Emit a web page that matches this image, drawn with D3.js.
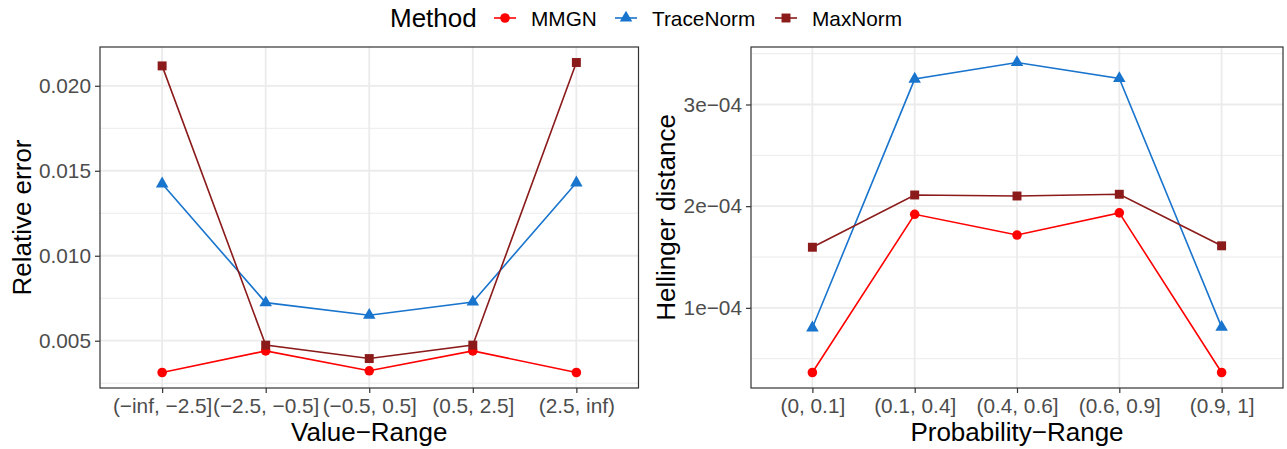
<!DOCTYPE html>
<html>
<head>
<meta charset="utf-8">
<script src="https://cdn.jsdelivr.net/npm/d3@7"></script>
<style>
  body { margin: 0; background: #fff; }
  svg { display: block; font-family: "Liberation Sans", Arial, Helvetica, sans-serif; }
</style>
</head>
<body>
<svg id="chart" width="1287" height="449"></svg>
<script>
// series names and colours
const methods = ["MMGN", "TraceNorm", "MaxNorm"];
const colors = ["#FF0000", "#1874CD", "#8B1A1A"];
const shapes = [d3.symbolCircle, d3.symbolTriangle, d3.symbolSquare];
const shapeSizes = [72, 68, 80];

// left panel: relative error by value range
const valueRanges = ["(\u2212inf, \u22122.5]", "(\u22122.5, \u22120.5]", "(\u22120.5, 0.5]", "(0.5, 2.5]", "(2.5, inf)"];
const relMMGN = [0.00313, 0.00440, 0.00323, 0.00440, 0.00313];
const relTrace = [0.01423, 0.00724, 0.00650, 0.00728, 0.01429];
const relMax = [0.02117, 0.00474, 0.00395, 0.00474, 0.02137];
const relTicks = [0.005, 0.010, 0.015, 0.020];
const relTickLabels = ["0.005", "0.010", "0.015", "0.020"];

// right panel: hellinger distance by probability range
const probRanges = ["(0, 0.1]", "(0.1, 0.4]", "(0.4, 0.6]", "(0.6, 0.9]", "(0.9, 1]"];
const helMMGN = [3.64e-5, 1.92e-4, 1.716e-4, 1.934e-4, 3.64e-5];
const helTrace = [8.04e-5, 3.25e-4, 3.413e-4, 3.256e-4, 8.1e-5];
const helMax = [1.596e-4, 2.11e-4, 2.10e-4, 2.117e-4, 1.61e-4];
const helTicks = [1e-4, 2e-4, 3e-4];
const helTickLabels = ["1e\u221204", "2e\u221204", "3e\u221204"];

const svg = d3.select("#chart");

// legend on top
const legend = svg.append("g");
legend.append("text").attr("x", 390).attr("y", 27)
    .attr("font-size", 26).attr("fill", "#000").text("Method");
const keyX = [494, 615, 775];
methods.forEach((m, i) => {
    const g = legend.append("g").attr("transform", `translate(${keyX[i]},18)`);
    g.append("line").attr("x1", 0).attr("x2", 22).attr("y1", 0).attr("y2", 0)
        .attr("stroke", colors[i]).attr("stroke-width", 1.6);
    g.append("path").attr("d", d3.symbol(shapes[i], shapeSizes[i])())
        .attr("transform", "translate(11,0)").attr("fill", colors[i]);
    g.append("text").attr("x", 37).attr("y", 7.5).attr("font-size", 20.8)
        .attr("fill", "#000").text(m);
});

function drawPanel(opts) {
    const { left, right, top, bottom, cats, series, ticks, tickLabels, yTitle, xTitle } = opts;
    const all = series.flat();
    const [lo, hi] = d3.extent(all);
    const pad = (hi - lo) * 0.05;

    const x = d3.scalePoint().domain(cats).range([left, right]).padding(0.6);
    const y = d3.scaleLinear().domain([lo - pad, hi + pad]).range([bottom, top]);

    const g = svg.append("g");

    // minor grid
    const minor = [];
    for (let i = 0; i <= ticks.length; i++) {
        const step = ticks[1] - ticks[0];
        const v = ticks[0] - step / 2 + i * step;
        if (v > y.domain()[0] && v < y.domain()[1]) minor.push(v);
    }
    g.selectAll(".minor").data(minor).enter().append("line")
        .attr("x1", left).attr("x2", right)
        .attr("y1", d => y(d)).attr("y2", d => y(d))
        .attr("stroke", "#EBEBEB").attr("stroke-width", 1);

    // major grid
    g.selectAll(".hmajor").data(ticks).enter().append("line")
        .attr("x1", left).attr("x2", right)
        .attr("y1", d => y(d)).attr("y2", d => y(d))
        .attr("stroke", "#EBEBEB").attr("stroke-width", 1.8);
    g.selectAll(".vmajor").data(cats).enter().append("line")
        .attr("x1", d => x(d)).attr("x2", d => x(d))
        .attr("y1", top).attr("y2", bottom)
        .attr("stroke", "#EBEBEB").attr("stroke-width", 1.8);

    // series
    series.forEach((vals, i) => {
        const pts = cats.map((c, j) => [x(c), y(vals[j])]);
        g.append("path").attr("d", d3.line()(pts))
            .attr("fill", "none").attr("stroke", colors[i]).attr("stroke-width", 1.6);
        g.selectAll(null).data(pts).enter().append("path")
            .attr("d", d3.symbol(shapes[i], shapeSizes[i])())
            .attr("transform", d => `translate(${d[0]},${d[1]})`)
            .attr("fill", colors[i]);
    });

    // border
    g.append("rect").attr("x", left).attr("y", top)
        .attr("width", right - left).attr("height", bottom - top)
        .attr("fill", "none").attr("stroke", "#333333").attr("stroke-width", 1.2);

    // axes
    const yAxis = d3.axisLeft(y).tickValues(ticks).tickFormat((d, i) => tickLabels[i])
        .tickSize(5).tickPadding(4);
    const ya = g.append("g").attr("transform", `translate(${left},0)`).call(yAxis);
    const xAxis = d3.axisBottom(x).tickSize(5).tickPadding(4);
    const xa = g.append("g").attr("transform", `translate(0,${bottom})`).call(xAxis);
    [ya, xa].forEach(a => {
        a.select(".domain").remove();
        a.selectAll(".tick line").attr("stroke", "#333333").attr("stroke-width", 1.2);
        a.selectAll(".tick text").attr("fill", "#4D4D4D").attr("font-size", 20.8)
            .attr("font-family", "Liberation Sans, Arial, sans-serif");
    });
    xa.selectAll(".tick text").attr("dy", "0.78em");

    // titles
    g.append("text").attr("x", (left + right) / 2).attr("y", 441)
        .attr("text-anchor", "middle").attr("font-size", 26).attr("fill", "#000").text(xTitle);
    g.append("text")
        .attr("transform", `translate(${opts.yTitleX},${(top + bottom) / 2}) rotate(-90)`)
        .attr("text-anchor", "middle").attr("font-size", 26).attr("fill", "#000").text(yTitle);
}

drawPanel({
    left: 100, right: 638.5, top: 47, bottom: 388,
    cats: valueRanges, series: [relMMGN, relTrace, relMax],
    ticks: relTicks, tickLabels: relTickLabels,
    yTitle: "Relative error", xTitle: "Value\u2212Range", yTitleX: 31
});
drawPanel({
    left: 751, right: 1283, top: 47, bottom: 388,
    cats: probRanges, series: [helMMGN, helTrace, helMax],
    ticks: helTicks, tickLabels: helTickLabels,
    yTitle: "Hellinger distance", xTitle: "Probability\u2212Range", yTitleX: 675
});
</script>
</body>
</html>
